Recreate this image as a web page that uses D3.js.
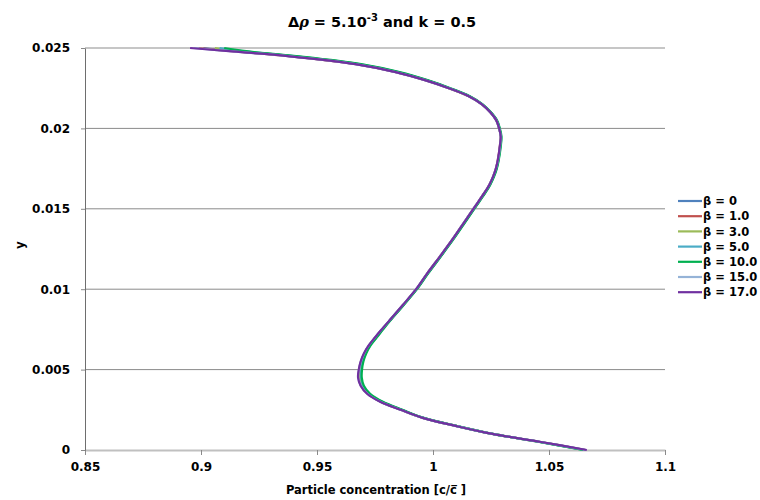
<!DOCTYPE html>
<html>
<head>
<meta charset="utf-8">
<script src="https://cdn.jsdelivr.net/npm/d3@7"></script>
<style>
  body { margin: 0; background: #fff; }
  text { font-family: "DejaVu Sans", sans-serif; font-weight: bold; }
</style>
</head>
<body>
<div id="chart"></div>
<script>
// shared heights (y) for every series
const yValues = [0, 0.0005, 0.001, 0.0015, 0.002, 0.0025, 0.003, 0.0035, 0.004, 0.0045,
  0.005, 0.0055, 0.006, 0.0065, 0.007, 0.0075, 0.008, 0.009, 0.010, 0.011, 0.012, 0.013, 0.014,
  0.015, 0.016, 0.0165, 0.017, 0.0175, 0.018, 0.019, 0.0195, 0.020, 0.0205, 0.021, 0.0215, 0.022,
  0.0225, 0.023, 0.0235, 0.024, 0.0245, 0.0248, 0.025];

// particle concentration per series
const beta0  = [1.0656, 1.0463, 1.0256, 1.0098, 0.9957, 0.9862, 0.9775, 0.9720, 0.9692, 0.9682,
  0.9684, 0.9691, 0.9705, 0.9725, 0.9752, 0.9781, 0.9810, 0.9870, 0.9928, 0.9977, 1.0029, 1.0080,
  1.0128, 1.0175, 1.0223, 1.0244, 1.0260, 1.0272, 1.0280, 1.0290, 1.0292, 1.0285, 1.0273, 1.0247,
  1.0211, 1.0155, 1.0069, 0.9967, 0.9842, 0.9670, 0.9382, 0.9140, 0.9010];
const beta1  = [1.0658, 1.0464, 1.0256, 1.0098, 0.9956, 0.9861, 0.9774, 0.9718, 0.9690, 0.9680,
  0.9682, 0.9690, 0.9704, 0.9724, 0.9751, 0.9780, 0.9810, 0.9870, 0.9928, 0.9976, 1.0028, 1.0079,
  1.0127, 1.0174, 1.0222, 1.0243, 1.0259, 1.0271, 1.0279, 1.0289, 1.0292, 1.0285, 1.0273, 1.0247,
  1.0211, 1.0154, 1.0068, 0.9966, 0.9840, 0.9668, 0.9378, 0.9132, 0.8990];
const beta3  = [1.0652, 1.0461, 1.0257, 1.0099, 0.9958, 0.9864, 0.9778, 0.9723, 0.9696, 0.9686,
  0.9688, 0.9694, 0.9708, 0.9727, 0.9754, 0.9782, 0.9811, 0.9871, 0.9929, 0.9978, 1.0030, 1.0081,
  1.0129, 1.0176, 1.0224, 1.0245, 1.0261, 1.0273, 1.0281, 1.0291, 1.0293, 1.0286, 1.0274, 1.0248,
  1.0212, 1.0156, 1.0071, 0.9970, 0.9847, 0.9677, 0.9392, 0.9165, 0.9060];
const beta5  = [1.0650, 1.0460, 1.0257, 1.0100, 0.9959, 0.9866, 0.9781, 0.9726, 0.9699, 0.9690,
  0.9691, 0.9697, 0.9710, 0.9729, 0.9756, 0.9783, 0.9812, 0.9872, 0.9930, 0.9979, 1.0031, 1.0082,
  1.0130, 1.0177, 1.0225, 1.0246, 1.0262, 1.0274, 1.0282, 1.0292, 1.0294, 1.0287, 1.0275, 1.0249,
  1.0213, 1.0157, 1.0073, 0.9973, 0.9851, 0.9683, 0.9400, 0.9180, 0.9080];
const beta10 = [1.0647, 1.0458, 1.0258, 1.0101, 0.9960, 0.9868, 0.9784, 0.9729, 0.9702, 0.9693,
  0.9694, 0.9700, 0.9712, 0.9731, 0.9758, 0.9785, 0.9813, 0.9873, 0.9931, 0.9980, 1.0032, 1.0083,
  1.0131, 1.0178, 1.0226, 1.0247, 1.0263, 1.0275, 1.0283, 1.0293, 1.0295, 1.0288, 1.0276, 1.0250,
  1.0214, 1.0159, 1.0075, 0.9976, 0.9856, 0.9690, 0.9410, 0.9195, 0.9100];
const beta15 = [1.0660, 1.0465, 1.0256, 1.0097, 0.9955, 0.9860, 0.9773, 0.9717, 0.9689, 0.9678,
  0.9681, 0.9689, 0.9703, 0.9723, 0.9750, 0.9779, 0.9809, 0.9869, 0.9927, 0.9976, 1.0028, 1.0079,
  1.0126, 1.0174, 1.0222, 1.0243, 1.0259, 1.0271, 1.0280, 1.0290, 1.0292, 1.0285, 1.0273, 1.0247,
  1.0211, 1.0154, 1.0068, 0.9965, 0.9839, 0.9666, 0.9375, 0.9125, 0.8970];
const beta17 = [1.0663, 1.0466, 1.0256, 1.0097, 0.9955, 0.9860, 0.9772, 0.9716, 0.9688, 0.9677,
  0.9680, 0.9688, 0.9702, 0.9723, 0.9750, 0.9779, 0.9809, 0.9869, 0.9927, 0.9976, 1.0028, 1.0079,
  1.0127, 1.0174, 1.0222, 1.0243, 1.0259, 1.0271, 1.0279, 1.0289, 1.0292, 1.0285, 1.0273, 1.0247,
  1.0211, 1.0154, 1.0068, 0.9965, 0.9839, 0.9665, 0.9373, 0.9120, 0.8953];

const seriesNames = ["β = 0", "β = 1.0", "β = 3.0", "β = 5.0", "β = 10.0", "β = 15.0", "β = 17.0"];
const seriesColors = ["#4F81BD", "#C0504D", "#9BBB59", "#4BACC6", "#00B050", "#95B3D7", "#7030A0"];
const seriesValues = [beta0, beta1, beta3, beta5, beta10, beta15, beta17];

const xTicks = [0.85, 0.9, 0.95, 1, 1.05, 1.1];
const yTicks = [0, 0.005, 0.01, 0.015, 0.02, 0.025];

const svg_width = 760, svg_height = 500;
const margin = { top: 48, right: 95, bottom: 50, left: 85 };
const width = svg_width - margin.left - margin.right;
const height = svg_height - margin.top - margin.bottom;

const svg = d3.select("#chart").append("svg")
  .attr("width", svg_width)
  .attr("height", svg_height);

const g = svg.append("g")
  .attr("transform", `translate(${margin.left}, ${margin.top})`);

const x = d3.scaleLinear().domain([0.85, 1.1]).range([0, width]);
const y = d3.scaleLinear().domain([0, 0.025]).range([height, 0]);

// horizontal gridlines
g.selectAll(".grid")
  .data(yTicks.filter(t => t > 0 && t < 0.025))
  .enter().append("line")
  .attr("x1", 0).attr("x2", width)
  .attr("y1", d => y(d)).attr("y2", d => y(d))
  .attr("stroke", "#8a8a8a").attr("stroke-width", 1);

// top line (lighter)
g.append("line")
  .attr("x1", 0).attr("x2", width)
  .attr("y1", y(0.025)).attr("y2", y(0.025))
  .attr("stroke", "#c6c6c6").attr("stroke-width", 2);

// x axis
const xAxis = g.append("g")
  .attr("transform", `translate(0, ${height})`)
  .call(d3.axisBottom(x).tickValues(xTicks).tickSize(5).tickSizeOuter(0)
    .tickFormat(d => String(d)));
xAxis.select(".domain").attr("stroke", "#c0c0c0").attr("stroke-width", 2);
xAxis.selectAll(".tick line").attr("stroke", "#8a8a8a");
xAxis.selectAll(".tick text").attr("font-size", 12).attr("fill", "#000")
  .attr("y", 12).attr("dy", "0.71em")
  .attr("font-family", "DejaVu Sans, sans-serif").attr("font-weight", "bold");

// y axis
const yAxis = g.append("g")
  .call(d3.axisLeft(y).tickValues(yTicks).tickSize(4).tickSizeOuter(0)
    .tickFormat(d => String(+d.toFixed(3))));
yAxis.select(".domain").attr("stroke", "#6e6e6e");
yAxis.selectAll(".tick line").attr("stroke", "#8a8a8a");
yAxis.selectAll(".tick text").attr("font-size", 12).attr("fill", "#000")
  .attr("x", -15).attr("font-family", "DejaVu Sans, sans-serif").attr("font-weight", "bold");

// lines
const line = d3.line()
  .x(d => x(d[0]))
  .y(d => y(d[1]))
  .curve(d3.curveCatmullRom.alpha(0.5));

seriesValues.forEach((vals, i) => {
  g.append("path")
    .datum(vals.map((v, j) => [v, yValues[j]]))
    .attr("fill", "none")
    .attr("stroke", seriesColors[i])
    .attr("stroke-width", 2.2)
    .attr("d", line);
});

// legend
const legend = svg.append("g").attr("transform", "translate(678, 201)");
seriesNames.forEach((name, i) => {
  const row = legend.append("g").attr("transform", `translate(0, ${i * 15.2})`);
  row.append("line").attr("x1", 0).attr("x2", 24).attr("y1", 0).attr("y2", 0)
    .attr("stroke", seriesColors[i]).attr("stroke-width", 2.2);
  row.append("text").attr("x", 25).attr("y", 0).attr("dy", "0.36em")
    .attr("font-size", 11.5).attr("fill", "#000").text(name);
});

// title
const title = svg.append("text")
  .attr("x", 382).attr("y", 27)
  .attr("text-anchor", "middle")
  .attr("font-size", 14.5).attr("fill", "#000");
title.append("tspan").text("Δ");
title.append("tspan").attr("font-style", "italic").attr("font-family", "DejaVu Serif").text("ρ");
title.append("tspan").text(" = 5.10");
title.append("tspan").attr("font-size", 10).attr("dy", -6).text("-3");
title.append("tspan").attr("dy", 6).text(" and k = 0.5");

// axis labels
svg.append("text")
  .attr("x", 376).attr("y", 494)
  .attr("text-anchor", "middle")
  .attr("font-size", 11.5).attr("fill", "#000")
  .text("Particle concentration [c/c\u0305 ]");

svg.append("text")
  .attr("transform", "translate(24, 245) rotate(-90)")
  .attr("text-anchor", "middle")
  .attr("font-size", 12).attr("fill", "#000")
  .text("y");
</script>
</body>
</html>
